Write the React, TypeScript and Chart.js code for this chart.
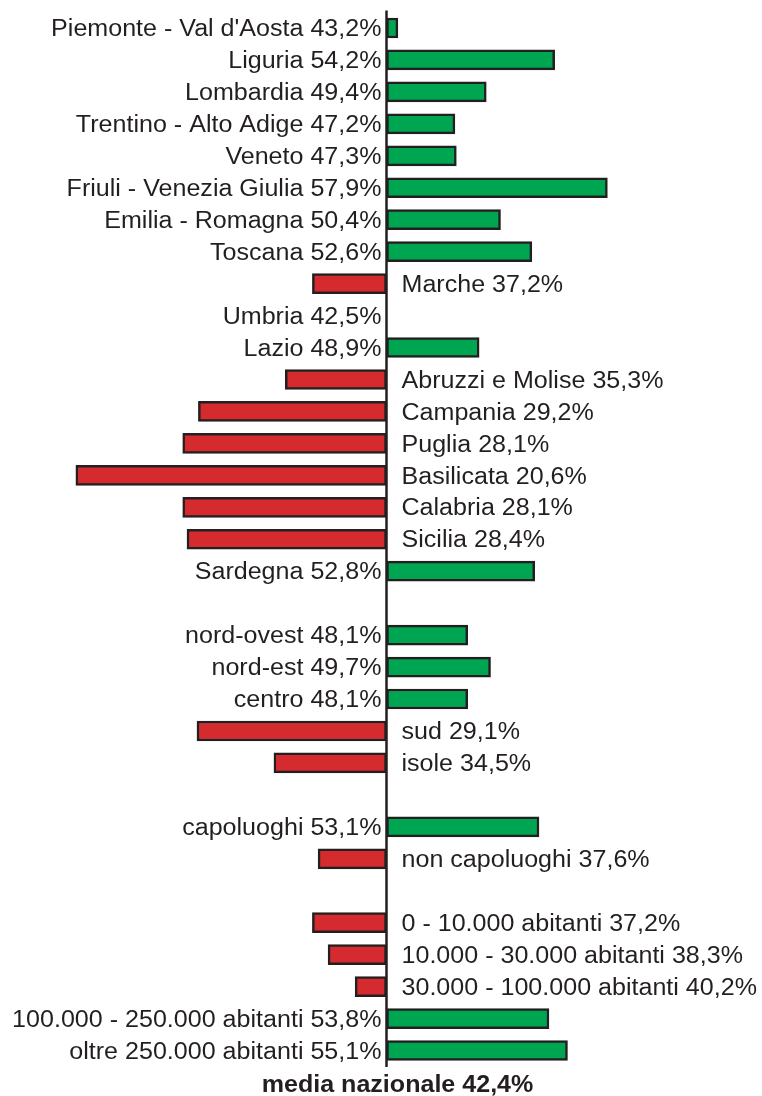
import React, { useEffect, useRef } from "react";
import { Chart, registerables } from "chart.js";

Chart.register(...registerables);

const categories: string[] = [
  "Piemonte - Val d'Aosta",
  "Liguria",
  "Lombardia",
  "Trentino - Alto Adige",
  "Veneto",
  "Friuli - Venezia Giulia",
  "Emilia - Romagna",
  "Toscana",
  "Marche",
  "Umbria",
  "Lazio",
  "Abruzzi e Molise",
  "Campania",
  "Puglia",
  "Basilicata",
  "Calabria",
  "Sicilia",
  "Sardegna",
  "",
  "nord-ovest",
  "nord-est",
  "centro",
  "sud",
  "isole",
  "",
  "capoluoghi",
  "non capoluoghi",
  "",
  "0 - 10.000 abitanti",
  "10.000 - 30.000 abitanti",
  "30.000 - 100.000 abitanti",
  "100.000 - 250.000 abitanti",
  "oltre 250.000 abitanti",
];

const values: (number | null)[] = [
  43.2, 54.2, 49.4, 47.2, 47.3, 57.9, 50.4, 52.6, 37.2, 42.5, 48.9, 35.3, 29.2,
  28.1, 20.6, 28.1, 28.4, 52.8, null, 48.1, 49.7, 48.1, 29.1, 34.5, null, 53.1,
  37.6, null, 37.2, 38.3, 40.2, 53.8, 55.1,
];

const nationalAverage = 42.4;
const averageLabel = "media nazionale";

const GREEN = "#00A551";
const RED = "#D52B2E";
const INK = "#231F20";
const FONT = '"Liberation Sans", Arial, sans-serif';
const STRETCH = 1.09;

const fmt = (v: number) => v.toFixed(1).replace(".", ",") + "%";

const labelPlugin = {
  id: "divergingLabels",
  afterDatasetsDraw(chart: any) {
    const ctx = chart.ctx as CanvasRenderingContext2D;
    const xs = chart.scales.x;
    const ys = chart.scales.y;
    const area = chart.chartArea;
    const axisX = xs.getPixelForValue(nationalAverage);

    // central axis line
    ctx.save();
    ctx.strokeStyle = INK;
    ctx.lineWidth = 2.5;
    ctx.beginPath();
    ctx.moveTo(axisX, area.top - 1.5);
    ctx.lineTo(axisX, area.bottom + 0.5);
    ctx.stroke();
    ctx.restore();

    const drawText = (
      text: string,
      x: number,
      y: number,
      align: CanvasTextAlign,
      font: string
    ) => {
      ctx.save();
      ctx.font = font;
      ctx.fillStyle = INK;
      ctx.textBaseline = "alphabetic";
      ctx.textAlign = align;
      ctx.translate(x, y);
      ctx.scale(STRETCH, 1);
      ctx.fillText(text, 0, 0);
      ctx.restore();
    };

    const font = `23px ${FONT}`;
    values.forEach((v, i) => {
      if (v === null) return;
      const y = ys.getPixelForValue(i);
      const text = `${categories[i]} ${fmt(v)}`;
      const baseline = y + 8.2;
      if (v >= nationalAverage) {
        drawText(text, axisX - 5, baseline, "right", font);
      } else {
        drawText(text, axisX + 15, baseline, "left", font);
      }
    });

    drawText(
      `${averageLabel} ${fmt(nationalAverage)}`,
      axisX + 11,
      area.bottom + 25.5,
      "center",
      `bold 23px ${FONT}`
    );
  },
};

export default function App() {
  const canvasRef = useRef<HTMLCanvasElement | null>(null);

  useEffect(() => {
    if (!canvasRef.current) return;
    const colorFor = (ctx: any, kind: "bg" | "border") => {
      const v = values[ctx.dataIndex];
      if (v === null || v === undefined) return "rgba(0,0,0,0)";
      if (Math.abs(v - nationalAverage) < 0.5) return "rgba(0,0,0,0)";
      if (kind === "border") return INK;
      return v >= nationalAverage ? GREEN : RED;
    };
    const chart = new Chart(canvasRef.current, {
      type: "bar",
      data: {
        labels: categories,
        datasets: [
          {
            data: values.map((v) => (v === null ? null : [nationalAverage, v])) as any,
            backgroundColor: (c: any) => colorFor(c, "bg"),
            borderColor: (c: any) => colorFor(c, "border"),
            borderWidth: 2.5,
            borderSkipped: false,
            barThickness: 20,
          },
        ],
      },
      options: {
        indexAxis: "y",
        animation: false,
        responsive: false,
        devicePixelRatio: 1,
        layout: {
          padding: { left: 67.3, right: 124.7, top: 12, bottom: 29.5 },
        },
        scales: {
          x: { type: "linear", min: 20, max: 60, display: false },
          y: { type: "category", display: false, offset: true },
        },
        plugins: {
          legend: { display: false },
          tooltip: { enabled: false },
          title: { display: false },
        },
      },
      plugins: [labelPlugin],
    });
    return () => chart.destroy();
  }, []);

  return (
    <div
      style={{
        position: "absolute",
        left: 0,
        top: 0,
        width: 762,
        height: 1096,
        background: "#ffffff",
      }}
    >
      <canvas ref={canvasRef} width={762} height={1096} />
    </div>
  );
}
